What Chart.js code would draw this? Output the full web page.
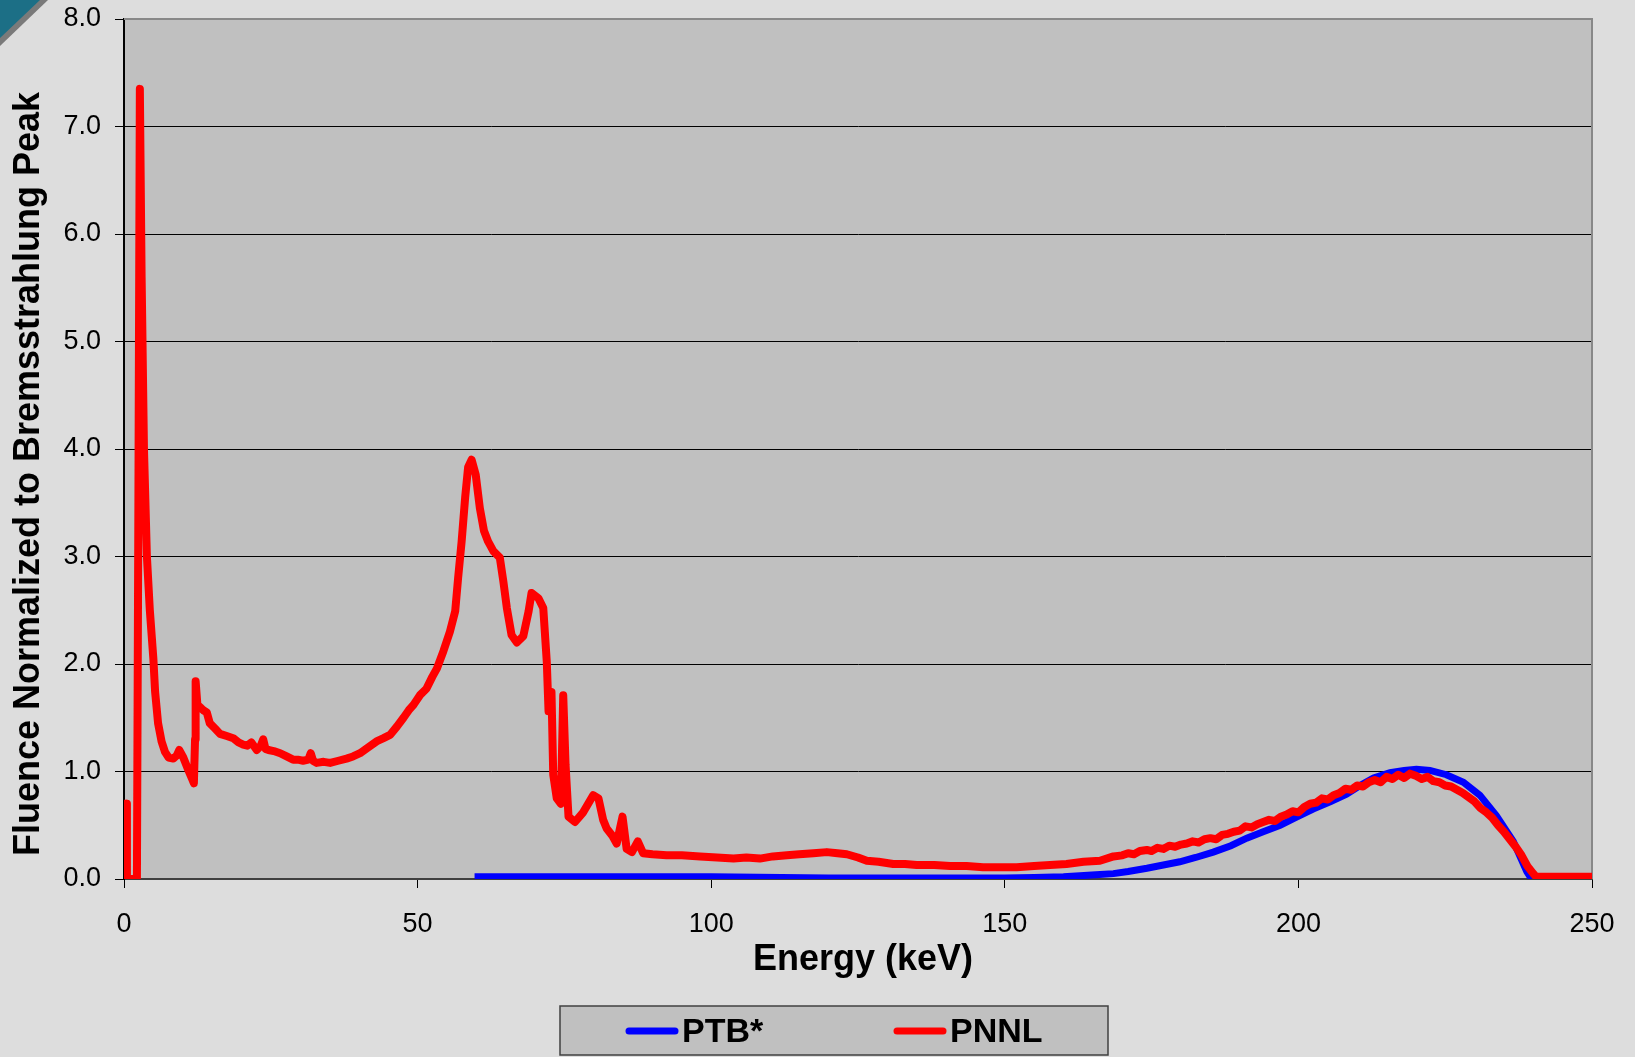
<!DOCTYPE html>
<html>
<head>
<meta charset="utf-8">
<script src="https://cdn.jsdelivr.net/npm/chart.js@4.4.0/dist/chart.umd.min.js"></script>
<style>
  body { margin: 0; background: #dddddd; }
  #box { width: 1635px; height: 1057px; }
</style>
</head>
<body>
<div id="box"><canvas id="myChart1" width="1635" height="1057"></canvas></div>
<script>
// nomes das series e titulos
const nomesSeries = ["PTB*", "PNNL"];
const tituloX = "Energy (keV)";
const tituloY = "Fluence Normalized to Bremsstrahlung Peak";
const ticksX = [0, 50, 100, 150, 200, 250];
const ticksY = [0, 1, 2, 3, 4, 5, 6, 7, 8];

// PTB* (azul)
const energiaPTB = [59.7, 80, 100, 120, 140, 150, 155, 160, 162.8, 165.5, 168.5, 171, 174.2, 177, 179.8,
  182.5, 185.5, 188.5, 191.2, 194, 196.9, 199.5, 202.5, 205.5, 208.2, 210.5, 212.8, 215.6, 218,
  220.1, 222.4, 225.2, 228.1, 230.9, 233.7, 236.6, 238.9, 239.7];
const fluenciaPTB = [0.02, 0.02, 0.02, 0.01, 0.01, 0.01, 0.015, 0.02, 0.03, 0.04, 0.05, 0.07, 0.10, 0.13, 0.16,
  0.20, 0.25, 0.31, 0.38, 0.44, 0.50, 0.57, 0.65, 0.72, 0.79, 0.87, 0.94, 0.99, 1.01,
  1.02, 1.01, 0.97, 0.90, 0.78, 0.59, 0.35, 0.07, 0.0];

// PNNL (vermelho)
const energiaPNNL = [0.2, 0.4, 0.5, 2.2, 2.45, 2.7, 3.0, 3.4, 3.9, 4.4, 5.0, 5.3, 5.8, 6.4, 7.0, 7.6, 8.4, 9.0, 9.4,
  10.1, 10.9, 11.6, 11.9, 12.1, 12.2, 12.5, 12.95, 13.5, 14.1, 14.6, 15.5, 16.35, 17.5, 18.6, 19.5,
  20.3, 21.0, 21.7, 22.6, 23.3, 23.7, 24.1, 24.6, 25.5, 26.6, 27.7, 28.8, 29.6, 30.5, 31.4, 31.8,
  32.2, 32.8, 34.0, 35.1, 36.5, 37.9, 39.0, 40.2, 41.5, 43.0, 44.2, 45.3, 46.5, 47.6, 48.5, 49.3,
  50.4, 51.5, 52.5, 53.3, 54.4, 55.5, 56.4, 56.9, 57.5, 58.1, 58.6, 59.2, 59.9, 60.6, 61.3, 62.0,
  62.9, 64.0, 64.6, 65.2, 66.0, 66.9, 68.0, 68.9, 69.4, 70.6, 71.4, 72.0, 72.3, 72.8, 73.1, 73.7,
  74.4, 74.8, 75.2, 75.7, 76.8, 78.2, 79.9, 80.8, 81.6, 82.2, 83.2, 83.9, 84.9, 85.6, 86.5, 87.5,
  88.4, 90, 92.4, 95, 98.1, 101, 103.8, 106, 108.3, 110.5, 112.9, 115, 117.4, 119.7, 121.5, 123.1,
  125, 126.5, 128.5, 131, 133, 135, 138, 140.7, 143.5, 146.3, 149, 152, 155, 157.7, 160.5, 163.4,
  166.2, 168.5, 170, 171, 172, 173, 174.2, 175, 176, 177, 178, 179, 180, 181, 182, 183, 184, 185,
  186, 187, 188, 189, 190, 191, 192, 193, 194, 195, 196, 197, 198, 199, 200, 201, 202, 203, 204,
  205, 206, 207, 208, 209, 210, 211, 212, 213, 214, 215, 216, 217, 218, 219, 220, 221, 222, 223,
  224, 225, 226, 227, 228, 229, 230, 231, 232, 233, 234, 235, 236, 237, 238, 239, 240, 240.5, 245, 250];
const fluenciaPNNL = [0.7, 0.7, 0.0, 0.0, 3.5, 7.35, 5.6, 4.0, 3.0, 2.5, 2.05, 1.74, 1.45, 1.28, 1.18, 1.13, 1.12, 1.15, 1.2,
  1.13, 1.02, 0.93, 0.89, 1.3, 1.84, 1.62, 1.6, 1.57, 1.55, 1.45, 1.40, 1.35, 1.33, 1.31, 1.27,
  1.25, 1.24, 1.27, 1.2, 1.24, 1.30, 1.21, 1.2, 1.19, 1.17, 1.14, 1.11, 1.11, 1.10, 1.11, 1.17,
  1.10, 1.08, 1.09, 1.08, 1.10, 1.12, 1.14, 1.17, 1.22, 1.28, 1.31, 1.34, 1.42, 1.5, 1.57, 1.62,
  1.71, 1.77, 1.88, 1.96, 2.12, 2.30, 2.49, 2.80, 3.14, 3.55, 3.83, 3.90, 3.76, 3.45, 3.24, 3.14,
  3.05, 2.99, 2.77, 2.52, 2.27, 2.20, 2.26, 2.49, 2.66, 2.61, 2.52, 2.02, 1.56, 1.74, 0.97, 0.75,
  0.70, 1.71, 1.06, 0.58, 0.53, 0.62, 0.78, 0.75, 0.55, 0.47, 0.40, 0.33, 0.58, 0.28, 0.25, 0.35,
  0.24, 0.23, 0.22, 0.22, 0.21, 0.20, 0.19, 0.20, 0.19, 0.21, 0.22, 0.23, 0.24, 0.25, 0.24, 0.23,
  0.20, 0.17, 0.16, 0.14, 0.14, 0.13, 0.13, 0.12, 0.12, 0.11, 0.11, 0.11, 0.12, 0.13, 0.14, 0.16,
  0.17, 0.21, 0.22, 0.24, 0.23, 0.26, 0.27, 0.26, 0.29, 0.28, 0.31, 0.30, 0.32, 0.33, 0.35, 0.34, 0.37, 0.38,
  0.37, 0.41, 0.42, 0.44, 0.45, 0.49, 0.48, 0.51, 0.53, 0.55, 0.54, 0.58, 0.60, 0.63, 0.62, 0.67, 0.70, 0.71, 0.75,
  0.74, 0.78, 0.80, 0.84, 0.83, 0.87, 0.86, 0.90, 0.92, 0.90, 0.95, 0.93, 0.97, 0.94, 0.98, 0.96, 0.93, 0.95, 0.91,
  0.90, 0.87, 0.86, 0.83, 0.80, 0.76, 0.72, 0.66, 0.62, 0.57, 0.50, 0.44, 0.37, 0.30, 0.22, 0.12, 0.05, 0.02, 0.02, 0.02];

const fonte = "'Liberation Sans', Arial, sans-serif";

function juntar(xs, ys) {
  let pontos = [];
  for (let i = 0; i < xs.length; i++) {
    pontos.push({ x: xs[i], y: ys[i] });
  }
  return pontos;
}

// fundo cinza da area do grafico + bordas + canto azul + titulos + legenda
const fundoPlugin = {
  id: "fundo",
  beforeDraw(chart) {
    const ctx = chart.ctx;
    const a = chart.chartArea;
    ctx.save();
    ctx.fillStyle = "#dddddd";
    ctx.fillRect(0, 0, chart.width, chart.height);
    // canto
    ctx.fillStyle = "#7a7a7a";
    ctx.beginPath();
    ctx.moveTo(0, 0); ctx.lineTo(48, 0); ctx.lineTo(0, 46); ctx.closePath();
    ctx.fill();
    ctx.fillStyle = "#1c6f86";
    ctx.beginPath();
    ctx.moveTo(0, 0); ctx.lineTo(40, 0); ctx.lineTo(0, 38); ctx.closePath();
    ctx.fill();
    ctx.fillStyle = "#c0c0c0";
    ctx.fillRect(a.left, a.top, a.right - a.left, a.bottom - a.top);
    ctx.restore();
  },
  beforeDatasetsDraw(chart) {
    const ctx = chart.ctx;
    const a = chart.chartArea;
    ctx.save();
    ctx.strokeStyle = "#888888";
    ctx.lineWidth = 2;
    ctx.beginPath();
    ctx.moveTo(a.left, a.top);
    ctx.lineTo(a.right, a.top);
    ctx.lineTo(a.right, a.bottom);
    ctx.stroke();
    ctx.restore();
  },
  afterDraw(chart) {
    const ctx = chart.ctx;
    ctx.save();
    // titulos dos eixos
    ctx.fillStyle = "#000";
    ctx.font = "bold 36px " + fonte;
    ctx.textAlign = "center";
    ctx.textBaseline = "middle";
    ctx.fillText(tituloX, 863, 960);
    ctx.save();
    ctx.translate(29, 474);
    ctx.rotate(-Math.PI / 2);
    ctx.fillText(tituloY, 0, 0);
    ctx.restore();

    // legenda
    ctx.textAlign = "left";
    ctx.fillStyle = "#c0c0c0";
    ctx.fillRect(560, 1006, 548, 49);
    ctx.strokeStyle = "#404040";
    ctx.lineWidth = 1.5;
    ctx.strokeRect(560, 1006, 548, 49);
    const cores = ["#0000ff", "#ff0000"];
    const xs = [629, 897];
    ctx.lineCap = "round";
    ctx.lineWidth = 7;
    ctx.font = "bold 34px " + fonte;
    for (let i = 0; i < nomesSeries.length; i++) {
      ctx.strokeStyle = cores[i];
      ctx.beginPath();
      ctx.moveTo(xs[i], 1031);
      ctx.lineTo(xs[i] + 46, 1031);
      ctx.stroke();
      ctx.fillStyle = "#000";
      ctx.fillText(nomesSeries[i], xs[i] + 53, 1033);
    }
    ctx.restore();
  }
};

let dados = {
  datasets: [
    {
      label: nomesSeries[0],
      data: juntar(energiaPTB, fluenciaPTB),
      borderColor: "#0000ff",
      borderWidth: 7,
      pointRadius: 0,
      tension: 0,
      order: 1,
    },
    {
      label: nomesSeries[1],
      data: juntar(energiaPNNL, fluenciaPNNL),
      borderColor: "#ff0000",
      borderWidth: 8,
      pointRadius: 0,
      tension: 0,
      borderJoinStyle: "round",
      borderCapStyle: "round",
      order: 0,
    },
  ],
};

const config = {
  type: "line",
  data: dados,
  options: {
    responsive: false,
    animation: false,
    layout: { padding: { top: 19, right: 43, bottom: 75, left: 0 } },
    plugins: {
      legend: { display: false },
      tooltip: { enabled: false },
    },
    scales: {
      x: {
        type: "linear",
        min: 0,
        max: 250,
        afterBuildTicks: (s) => { s.ticks = ticksX.map((v) => ({ value: v })); },
        afterFit: (s) => { s.height = 103; s.paddingLeft = 0; s.paddingRight = 0; },
        grid: { drawOnChartArea: false, color: "#000", tickLength: 9 },
        border: { color: "#404040", width: 2 },
        ticks: { color: "#000", font: { family: fonte, size: 27 }, padding: 20, maxRotation: 0 },
        title: { display: false },
      },
      y: {
        min: 0,
        max: 8,
        afterBuildTicks: (s) => { s.ticks = ticksY.map((v) => ({ value: v })); },
        afterFit: (s) => { s.width = 124; s.paddingTop = 0; s.paddingBottom = 0; },
        grid: { color: "#000", lineWidth: 1, tickLength: 9 },
        border: { color: "#000", width: 2 },
        ticks: { color: "#000", font: { family: fonte, size: 27 }, padding: 14, callback: (v) => v.toFixed(1) },
        title: { display: false },
      },
    },
  },
  plugins: [fundoPlugin],
};

let myChart = new Chart(document.getElementById("myChart1"), config);
console.log("grafico pronto", myChart.chartArea);
</script>
</body>
</html>
